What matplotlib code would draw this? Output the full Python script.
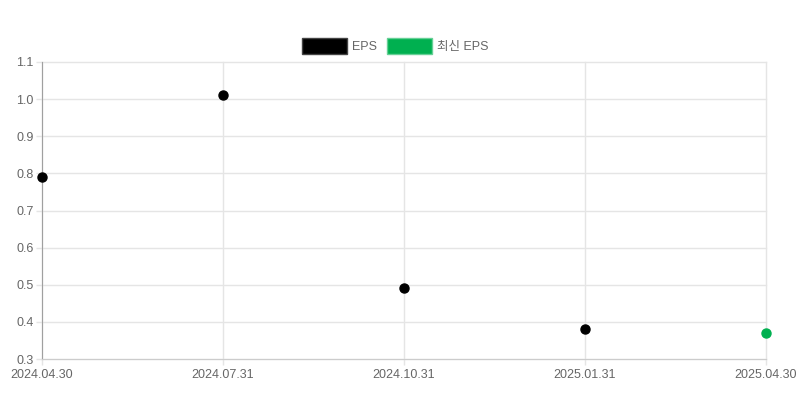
import matplotlib
matplotlib.use("Agg")
import matplotlib.pyplot as plt
from matplotlib.patches import Patch

plt.rcParams['font.family'] = ['Liberation Sans', 'Noto Sans CJK KR', 'DejaVu Sans']

categories = ["2024.04.30", "2024.07.31", "2024.10.31", "2025.01.31", "2025.04.30"]
eps_values = [0.79, 1.01, 0.49, 0.38, None]
latest_values = [None, None, None, None, 0.37]
y_ticks = [0.3, 0.4, 0.5, 0.6, 0.7, 0.8, 0.9, 1.0, 1.1]

fig = plt.figure(figsize=(8, 4), dpi=100)
ax = fig.add_axes([42/800, 41/400, 724/800, 297/400])

x = list(range(len(categories)))
ex = [i for i, v in zip(x, eps_values) if v is not None]
ey = [v for v in eps_values if v is not None]
lx = [i for i, v in zip(x, latest_values) if v is not None]
ly = [v for v in latest_values if v is not None]

ax.plot(ex, ey, 'o', color='#000000', markersize=6.5, clip_on=False, zorder=3)
ax.plot(lx, ly, 'o', color='#00b050', markersize=6.5, clip_on=False, zorder=3)

ax.set_xlim(0, len(categories) - 1)
ax.set_ylim(0.3, 1.1)
ax.set_xticks(x)
ax.set_xticklabels(categories)
ax.set_yticks(y_ticks)
ax.set_yticklabels([f"{v:.1f}" for v in y_ticks])

ax.grid(True, color='#e5e5e5', linewidth=1)
for gl in ax.get_xgridlines() + ax.get_ygridlines():
    gl.set_clip_on(False)
ax.set_axisbelow(True)
for s in ['top', 'right']:
    ax.spines[s].set_visible(False)
ax.spines['left'].set_color('#a0a0a0')
ax.spines['bottom'].set_color('#cccccc')
ax.tick_params(axis='both', colors='#e5e5e5', labelcolor='#666666', labelsize=9, length=4, width=1)
ax.tick_params(axis='x', pad=3)
ax.tick_params(axis='y', pad=2)

handles = [Patch(facecolor='#000000', edgecolor='#444444', label='EPS'),
           Patch(facecolor='#00b050', edgecolor='#66d096', label='최신 EPS')]
leg = fig.legend(handles=handles, loc='center', bbox_to_anchor=(0.494, 354/400), ncol=2,
                 frameon=False, handlelength=3.6, handleheight=1.6, handletextpad=0.45,
                 columnspacing=0.75, fontsize=9)
for t in leg.get_texts():
    t.set_color('#666666')

fig.savefig('out.png', dpi=100)
